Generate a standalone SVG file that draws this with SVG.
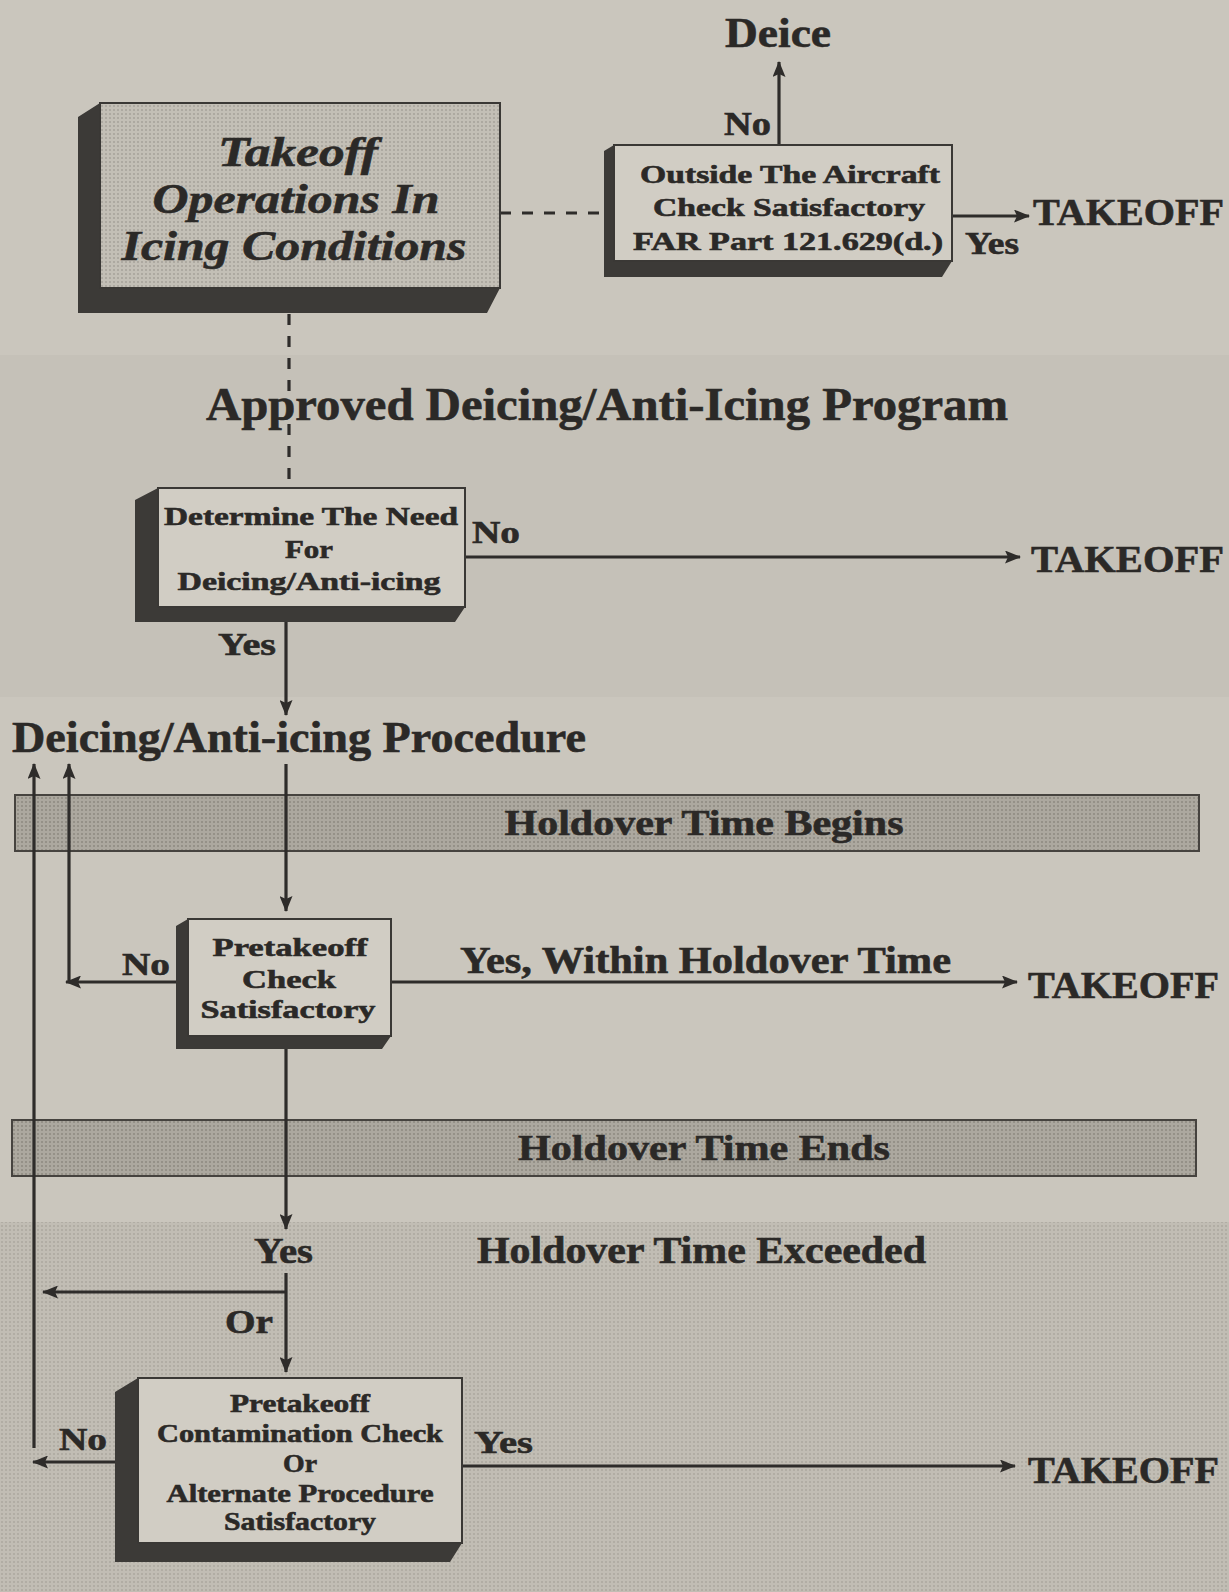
<svg xmlns="http://www.w3.org/2000/svg" width="1229" height="1592" viewBox="0 0 1229 1592">
<defs>
<style>
.t{font-family:"Liberation Serif","DejaVu Serif",serif;font-weight:bold;fill:#2b2927;stroke:#2b2927;stroke-width:0.6}
.it{font-style:italic}
.ln{stroke:#2e2c2a;stroke-width:3.2;fill:none}
.dash{stroke:#2e2c2a;stroke-width:3.2;fill:none;stroke-dasharray:11 11}
.face{fill:#d1cdc4;stroke:#3a3835;stroke-width:2}
.shadow{fill:#3c3a37}
.bar{fill:url(#barDots);stroke:#46433f;stroke-width:2}
</style>
<pattern id="barDots" width="4" height="4" patternUnits="userSpaceOnUse">
<rect width="4" height="4" fill="#aca89f"/><circle cx="2" cy="2" r="1" fill="#8d8981"/>
</pattern>
<pattern id="mainDots" width="4" height="4" patternUnits="userSpaceOnUse">
<rect width="4" height="4" fill="#c3bfb6"/><circle cx="2" cy="2" r="0.9" fill="#a39f97"/>
</pattern>
<pattern id="lowDots" width="4" height="4" patternUnits="userSpaceOnUse">
<rect width="4" height="4" fill="#c1bdb4"/><circle cx="2" cy="2" r="0.9" fill="#aaa69d"/>
</pattern>
<marker id="ah" markerUnits="userSpaceOnUse" markerWidth="16" markerHeight="13" refX="15" refY="6.5" orient="auto">
<path d="M0,0 L16,6.5 L0,13 L3,6.5 z" fill="#2e2c2a"/>
</marker>
</defs>

<rect width="1229" height="1592" fill="#cac6bd"/>
<rect x="0" y="355" width="1229" height="342" fill="#c5c1b8"/>
<rect x="0" y="1222" width="1229" height="370" fill="url(#lowDots)"/>

<g id="bar-begins">
<rect class="bar" x="15" y="795" width="1184" height="56"/>
<text class="t" x="704" y="835" font-size="36" text-anchor="middle" textLength="399" lengthAdjust="spacingAndGlyphs">Holdover Time Begins</text>
</g>
<g id="bar-ends">
<rect class="bar" x="12" y="1120" width="1184" height="56"/>
<text class="t" x="704" y="1160" font-size="36" text-anchor="middle" textLength="372" lengthAdjust="spacingAndGlyphs">Holdover Time Ends</text>
</g>

<g id="connectors">
<line class="dash" x1="500" y1="213" x2="604" y2="213"/>
<line class="dash" x1="289" y1="314" x2="289" y2="488"/>
<line class="ln" x1="779" y1="145" x2="779" y2="62" marker-end="url(#ah)"/>
<line class="ln" x1="952" y1="216" x2="1029" y2="216" marker-end="url(#ah)"/>
<line class="ln" x1="465" y1="557" x2="1020" y2="557" marker-end="url(#ah)"/>
<line class="ln" x1="286" y1="622" x2="286" y2="715" marker-end="url(#ah)"/>
<line class="ln" x1="286" y1="764" x2="286" y2="911" marker-end="url(#ah)"/>
<line class="ln" x1="178" y1="982" x2="66" y2="982" marker-end="url(#ah)"/>
<line class="ln" x1="69" y1="982" x2="69" y2="764" marker-end="url(#ah)"/>
<line class="ln" x1="34" y1="1448" x2="34" y2="764" marker-end="url(#ah)"/>
<line class="ln" x1="391" y1="982" x2="1017" y2="982" marker-end="url(#ah)"/>
<line class="ln" x1="286" y1="1048" x2="286" y2="1229" marker-end="url(#ah)"/>
<line class="ln" x1="286" y1="1273" x2="286" y2="1372" marker-end="url(#ah)"/>
<line class="ln" x1="286" y1="1292" x2="43" y2="1292" marker-end="url(#ah)"/>
<line class="ln" x1="115" y1="1462" x2="33" y2="1462" marker-end="url(#ah)"/>
<line class="ln" x1="462" y1="1466" x2="1015" y2="1466" marker-end="url(#ah)"/>
</g>

<g id="node-takeoff-ops">
<polygon class="shadow" points="100,103 78,117 78,313 487,313 500,288 100,288"/>
<rect x="100" y="103" width="400" height="185" fill="url(#mainDots)" stroke="#3a3835" stroke-width="2"/>
<text class="t it" x="298" y="166" font-size="43" text-anchor="middle" textLength="160" lengthAdjust="spacingAndGlyphs">Takeoff</text>
<text class="t it" x="296" y="213" font-size="43" text-anchor="middle" textLength="287" lengthAdjust="spacingAndGlyphs">Operations In</text>
<text class="t it" x="294" y="260" font-size="43" text-anchor="middle" textLength="345" lengthAdjust="spacingAndGlyphs">Icing Conditions</text>
</g>

<g id="node-outside">
<polygon class="shadow" points="614,145 604,151 604,277 942,277 952,261 614,261"/>
<rect class="face" x="614" y="145" width="338" height="116"/>
<text class="t" x="790" y="183" font-size="25" text-anchor="middle" textLength="300" lengthAdjust="spacingAndGlyphs">Outside The Aircraft</text>
<text class="t" x="789" y="216" font-size="25" text-anchor="middle" textLength="272" lengthAdjust="spacingAndGlyphs">Check Satisfactory</text>
<text class="t" x="788" y="250" font-size="25" text-anchor="middle" textLength="310" lengthAdjust="spacingAndGlyphs">FAR Part 121.629(d.)</text>
</g>

<g id="label-deice">
<text class="t" x="778" y="47" font-size="42" text-anchor="middle" textLength="106" lengthAdjust="spacingAndGlyphs">Deice</text>
</g>
<g id="labels-top">
<text class="t" x="724" y="135" font-size="34" textLength="47" lengthAdjust="spacingAndGlyphs">No</text>
<text class="t" x="965" y="254" font-size="32" textLength="54" lengthAdjust="spacingAndGlyphs">Yes</text>
<text class="t" x="1033" y="225" font-size="38" textLength="191" lengthAdjust="spacingAndGlyphs">TAKEOFF</text>
</g>

<g id="label-approved">
<text class="t" x="206" y="420" font-size="46" textLength="802" lengthAdjust="spacingAndGlyphs">Approved Deicing/Anti-Icing Program</text>
</g>

<g id="node-determine">
<polygon class="shadow" points="158,488 135,500 135,622 455,622 465,607 158,607"/>
<rect class="face" x="158" y="488" width="307" height="119"/>
<text class="t" x="311" y="525" font-size="26" text-anchor="middle" textLength="294" lengthAdjust="spacingAndGlyphs">Determine The Need</text>
<text class="t" x="309" y="558" font-size="26" text-anchor="middle" textLength="48" lengthAdjust="spacingAndGlyphs">For</text>
<text class="t" x="309" y="590" font-size="26" text-anchor="middle" textLength="263" lengthAdjust="spacingAndGlyphs">Deicing/Anti-icing</text>
</g>
<g id="labels-determine">
<text class="t" x="472" y="543" font-size="32" textLength="48" lengthAdjust="spacingAndGlyphs">No</text>
<text class="t" x="1031" y="572" font-size="38" textLength="193" lengthAdjust="spacingAndGlyphs">TAKEOFF</text>
<text class="t" x="218" y="655" font-size="32" textLength="58" lengthAdjust="spacingAndGlyphs">Yes</text>
</g>

<g id="label-procedure">
<text class="t" x="12" y="752" font-size="44" textLength="574" lengthAdjust="spacingAndGlyphs">Deicing/Anti-icing Procedure</text>
</g>

<g id="node-pretakeoff-check">
<polygon class="shadow" points="188,919 176,926 176,1049 382,1049 391,1036 188,1036"/>
<rect class="face" x="188" y="919" width="203" height="117"/>
<text class="t" x="290" y="956" font-size="26" text-anchor="middle" textLength="155" lengthAdjust="spacingAndGlyphs">Pretakeoff</text>
<text class="t" x="289" y="988" font-size="26" text-anchor="middle" textLength="94" lengthAdjust="spacingAndGlyphs">Check</text>
<text class="t" x="288" y="1018" font-size="26" text-anchor="middle" textLength="175" lengthAdjust="spacingAndGlyphs">Satisfactory</text>
</g>
<g id="labels-pretakeoff">
<text class="t" x="122" y="975" font-size="32" textLength="48" lengthAdjust="spacingAndGlyphs">No</text>
<text class="t" x="460" y="973" font-size="38" textLength="491" lengthAdjust="spacingAndGlyphs">Yes, Within Holdover Time</text>
<text class="t" x="1028" y="998" font-size="38" textLength="191" lengthAdjust="spacingAndGlyphs">TAKEOFF</text>
</g>

<g id="labels-exceeded">
<text class="t" x="254" y="1263" font-size="36" textLength="59" lengthAdjust="spacingAndGlyphs">Yes</text>
<text class="t" x="477" y="1263" font-size="38" textLength="449" lengthAdjust="spacingAndGlyphs">Holdover Time Exceeded</text>
<text class="t" x="225" y="1333" font-size="34" textLength="48" lengthAdjust="spacingAndGlyphs">Or</text>
</g>

<g id="node-contamination">
<polygon class="shadow" points="138,1378 115,1392 115,1562 450,1562 462,1543 138,1543"/>
<rect class="face" x="138" y="1378" width="324" height="165"/>
<text class="t" x="300" y="1412" font-size="25" text-anchor="middle" textLength="140" lengthAdjust="spacingAndGlyphs">Pretakeoff</text>
<text class="t" x="300" y="1442" font-size="25" text-anchor="middle" textLength="286" lengthAdjust="spacingAndGlyphs">Contamination Check</text>
<text class="t" x="300" y="1472" font-size="25" text-anchor="middle" textLength="34" lengthAdjust="spacingAndGlyphs">Or</text>
<text class="t" x="300" y="1502" font-size="25" text-anchor="middle" textLength="267" lengthAdjust="spacingAndGlyphs">Alternate Procedure</text>
<text class="t" x="300" y="1530" font-size="25" text-anchor="middle" textLength="152" lengthAdjust="spacingAndGlyphs">Satisfactory</text>
</g>
<g id="labels-contamination">
<text class="t" x="59" y="1450" font-size="32" textLength="48" lengthAdjust="spacingAndGlyphs">No</text>
<text class="t" x="474" y="1453" font-size="32" textLength="59" lengthAdjust="spacingAndGlyphs">Yes</text>
<text class="t" x="1028" y="1483" font-size="38" textLength="191" lengthAdjust="spacingAndGlyphs">TAKEOFF</text>
</g>
</svg>
